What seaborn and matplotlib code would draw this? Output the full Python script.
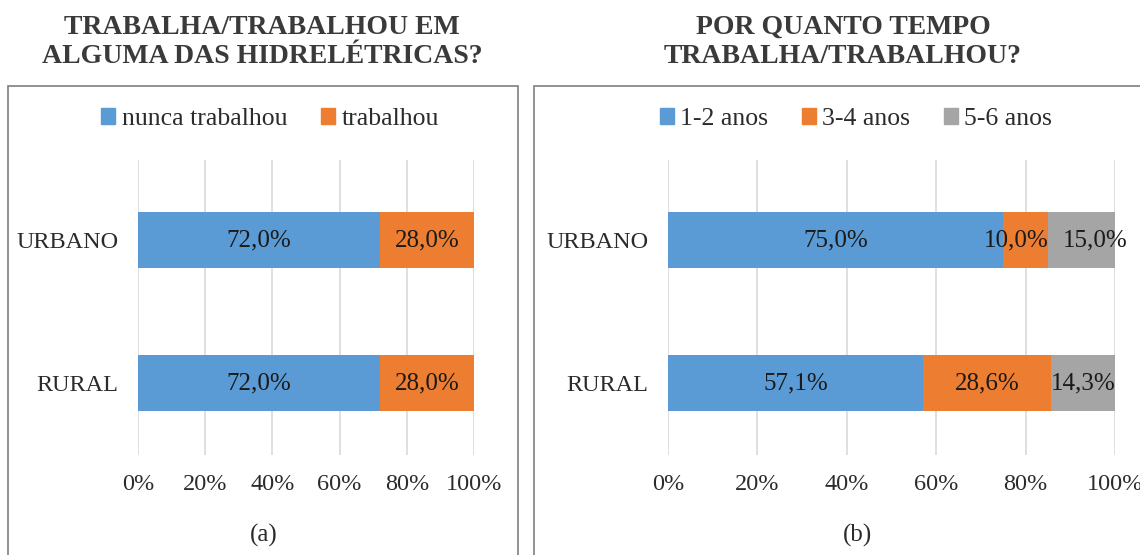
import matplotlib
matplotlib.use("Agg")
import matplotlib.pyplot as plt
from matplotlib.patches import Rectangle, Patch
import numpy as np
import pandas as pd
import seaborn as sns

# ---- data ----
regions = ["URBANO", "RURAL"]

work_labels = ["nunca trabalhou", "trabalhou"]
never_worked = [72.0, 72.0]
worked = [28.0, 28.0]

time_labels = ["1-2 anos", "3-4 anos", "5-6 anos"]
years_1_2 = [75.0, 57.1]
years_3_4 = [10.0, 28.6]
years_5_6 = [15.0, 14.3]

tick_values = [0, 20, 40, 60, 80, 100]
tick_labels = ["0%", "20%", "40%", "60%", "80%", "100%"]

title_a = "TRABALHA/TRABALHOU EM\nALGUMA DAS HIDRELÉTRICAS?"
title_b = "POR QUANTO TEMPO\nTRABALHA/TRABALHOU?"
caption_a = "(a)"
caption_b = "(b)"

# ---- style ----
BLUE, ORANGE, GRAY = "#5B9BD5", "#ED7D31", "#A5A5A5"
GRID = "#D9D9D9"
TXT = "#2b2b2b"

sns.set_theme(style="white")
plt.rcParams["font.family"] = ["Liberation Serif", "DejaVu Serif"]

W, H = 1140, 555
fig = plt.figure(figsize=(W / 100, H / 100), dpi=100)


def fx(px):
    return px / W


def fy(py):
    return 1 - py / H


def fmt(v):
    return f"{v:.1f}".replace(".", ",") + "%"


def stacked_panel(ax, parts, colors, nudges):
    totals = np.cumsum(np.array(parts), axis=0)
    # draw cumulative totals from the back so each segment shows on top
    for level in range(len(parts) - 1, -1, -1):
        frame = pd.DataFrame({"regiao": regions, "valor": totals[level]})
        sns.barplot(data=frame, x="valor", y="regiao", order=regions, orient="y",
                    color=colors[level], saturation=1, width=0.39,
                    errorbar=None, linewidth=0, ax=ax)
    for level, values in enumerate(parts):
        for j, v in enumerate(values):
            center = totals[level][j] - v / 2
            dx = nudges.get((level, j), 0)
            ax.annotate(fmt(v), (center, j), xytext=(dx, 0),
                        textcoords="offset points", ha="center", va="center",
                        fontsize=18, color="#1a1a1a", zorder=5)
    ax.set_xlim(0, 100)
    ax.set_ylim(1.503, -0.559)
    ax.set_xticks(tick_values)
    ax.set_xticklabels(tick_labels)
    ax.set_xlabel("")
    ax.set_ylabel("")
    ax.grid(axis="x", color=GRID, linewidth=1.2)
    ax.grid(axis="y", visible=False)
    ax.set_axisbelow(True)
    for s in ax.spines.values():
        s.set_visible(False)
    ax.tick_params(axis="x", length=0, pad=14, labelsize=17.5, labelcolor=TXT)
    ax.tick_params(axis="y", length=0, pad=14, labelsize=17.5, labelcolor=TXT)


# panel frames
fig.patches.append(Rectangle((fx(8), -0.02), fx(510), fy(86) + 0.02,
                             transform=fig.transFigure, fill=False,
                             edgecolor="#7f7f7f", linewidth=1.2, zorder=0))
fig.patches.append(Rectangle((fx(534), -0.02), fx(620), fy(86) + 0.02,
                             transform=fig.transFigure, fill=False,
                             edgecolor="#7f7f7f", linewidth=1.2, zorder=0))

ax_a = fig.add_axes([fx(138), fy(455), fx(474 - 138), (455 - 160) / H])
ax_b = fig.add_axes([fx(668), fy(455), fx(1115 - 668), (455 - 160) / H])

stacked_panel(ax_a, [never_worked, worked], [BLUE, ORANGE], {})
stacked_panel(ax_b, [years_1_2, years_3_4, years_5_6], [BLUE, ORANGE, GRAY],
              {(1, 0): -7, (2, 0): 10})

# titles
fig.text(fx(262), fy(42), title_a, ha="center", va="center", fontsize=20,
         fontweight="bold", color="#3a3a3a", linespacing=1.26)
fig.text(fx(843), fy(42), title_b, ha="center", va="center", fontsize=20,
         fontweight="bold", color="#3a3a3a", linespacing=1.26)

# legends
leg_kw = dict(loc="center", frameon=False, fontsize=18.5, handlelength=0.55,
              handleheight=0.55, handletextpad=0.25, columnspacing=1.3,
              labelcolor=TXT, borderpad=0)
fig.legend([Patch(color=c) for c in [BLUE, ORANGE]], work_labels, ncol=2,
           bbox_to_anchor=(fx(270), fy(119)), **leg_kw)
fig.legend([Patch(color=c) for c in [BLUE, ORANGE, GRAY]], time_labels, ncol=3,
           bbox_to_anchor=(fx(856), fy(119)), **leg_kw)

# captions
fig.text(fx(264), fy(535), caption_a, ha="center", va="center", fontsize=18,
         color=TXT)
fig.text(fx(857), fy(535), caption_b, ha="center", va="center", fontsize=18,
         color=TXT)

fig.savefig("out.png", dpi=100, facecolor="white")
